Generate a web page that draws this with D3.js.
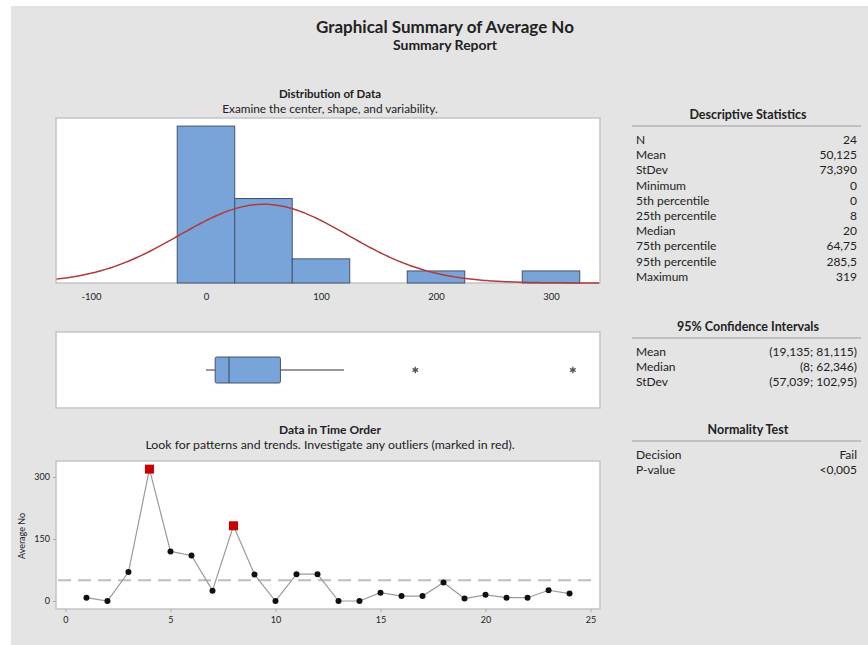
<!DOCTYPE html>
<html>
<head>
<meta charset="utf-8">
<script src="https://cdn.jsdelivr.net/npm/d3@7"></script>
<style>
  body{margin:0;background:#fff;}
  text{font-family:Lato,"Open Sans",sans-serif;fill:#222;}
</style>
</head>
<body>
<div id="container"></div>
<script>
let w = 868;
let h = 645;

let obsIndex = [1,2,3,4,5,6,7,8,9,10,11,12,13,14,15,16,17,18,19,20,21,22,23,24];
let obsValue = [8,0,70,319,120,110,25,182,64,0,65,65,0,0,20,12,12,45,6,15,8,8,26,18];
let outlierIndex = [4,8];

// histogram bins (midpoints, width 50) and counts
let binMid = [0,50,100,150,200,250,300];
let binCount = [13,7,2,0,1,0,1];

// boxplot summary
let boxStats = {min:0, q1:8, median:20, q3:64.75, whiskerHi:120};
let boxOutliers = [182,319];
let mean = 50.125;
let sd = 73.390;

// tables
let descLabels = ["N","Mean","StDev","Minimum","5th percentile","25th percentile","Median","75th percentile","95th percentile","Maximum"];
let descValues = ["24","50,125","73,390","0","0","8","20","64,75","285,5","319"];
let ciLabels = ["Mean","Median","StDev"];
let ciValues = ["(19,135; 81,115)","(8; 62,346)","(57,039; 102,95)"];
let normLabels = ["Decision","P-value"];
let normValues = ["Fail","<0,005"];

let histTicks = [-100,0,100,200,300];
let timeXTicks = [0,5,10,15,20,25];
let timeYTicks = [0,150,300];

let viz = d3.select("#container")
  .append("svg")
    .attr("width",w)
    .attr("height",h);

// grey page
viz.append("rect").attr("x",11).attr("y",6).attr("width",w-11).attr("height",h-6).attr("fill","#e4e4e4");

// titles
viz.append("text").attr("x",445).attr("y",33).attr("text-anchor","middle")
  .attr("font-size",17).attr("font-weight","bold").text("Graphical Summary of Average No");
viz.append("text").attr("x",445).attr("y",50).attr("text-anchor","middle")
  .attr("font-size",14).attr("font-weight","bold").text("Summary Report");

viz.append("text").attr("x",330).attr("y",98).attr("text-anchor","middle")
  .attr("font-size",11.5).attr("font-weight","bold").text("Distribution of Data");
viz.append("text").attr("x",330).attr("y",112.5).attr("text-anchor","middle")
  .attr("font-size",11.8).text("Examine the center, shape, and variability.");

// ---------- histogram ----------
let pL = 56, pR = 600;
let xScale = d3.scaleLinear().domain([-130.4,342.6]).range([pL,pR]);
let histTop = 118, histBot = 283;
let yHist = d3.scaleLinear().domain([0,13.67]).range([histBot,histTop]);

viz.append("rect").attr("x",pL).attr("y",histTop).attr("width",pR-pL).attr("height",histBot-histTop)
  .attr("fill","#fff").attr("stroke","#c4c4c4").attr("stroke-width",1.5);

let histG = viz.append("g");
histG.selectAll("rect").data(binMid.map((d,i)=>({mid:d,count:binCount[i]})).filter(d=>d.count>0))
  .enter().append("rect")
    .attr("x",d=>xScale(d.mid-25))
    .attr("width",d=>xScale(d.mid+25)-xScale(d.mid-25))
    .attr("y",d=>yHist(d.count))
    .attr("height",d=>histBot-yHist(d.count))
    .attr("fill","#79a4da")
    .attr("stroke","#44546a")
    .attr("stroke-width",1);

// fitted normal curve
let curveX = d3.range(-130,343,2);
let curve = d3.line()
  .x(d=>xScale(d))
  .y(d=>yHist(24*50*Math.exp(-0.5*((d-mean)/sd)**2)/(sd*Math.sqrt(2*Math.PI))));
histG.append("path").datum(curveX).attr("d",curve)
  .attr("fill","none").attr("stroke","#b23a3a").attr("stroke-width",1.5);

let xAxis = d3.axisBottom(xScale).tickValues(histTicks).tickSize(0).tickFormat(d=>d<0?"-"+Math.abs(d):d);
let xAxisG = viz.append("g").attr("transform","translate(0,"+histBot+")").call(xAxis);
xAxisG.select(".domain").remove();
xAxisG.selectAll("text").attr("font-size",9.5).attr("font-family","Lato").attr("fill","#222").attr("dy","1.5em");

// ---------- boxplot ----------
let boxTop = 332, boxBot = 408, boxMid = 370;
viz.append("rect").attr("x",pL).attr("y",boxTop).attr("width",pR-pL).attr("height",boxBot-boxTop)
  .attr("fill","#fff").attr("stroke","#c4c4c4").attr("stroke-width",1.5);
let boxG = viz.append("g");
boxG.append("line").attr("x1",xScale(boxStats.min)).attr("x2",xScale(boxStats.q1))
  .attr("y1",boxMid).attr("y2",boxMid).attr("stroke","#777").attr("stroke-width",1.5);
boxG.append("line").attr("x1",xScale(boxStats.q3)).attr("x2",xScale(boxStats.whiskerHi))
  .attr("y1",boxMid).attr("y2",boxMid).attr("stroke","#777").attr("stroke-width",1.5);
boxG.append("rect").attr("x",xScale(boxStats.q1)).attr("y",boxMid-13)
  .attr("width",xScale(boxStats.q3)-xScale(boxStats.q1)).attr("height",26)
  .attr("fill","#79a4da").attr("stroke","#44546a").attr("stroke-width",1).attr("rx",1.5);
boxG.append("line").attr("x1",xScale(boxStats.median)).attr("x2",xScale(boxStats.median))
  .attr("y1",boxMid-13).attr("y2",boxMid+13).attr("stroke","#44546a").attr("stroke-width",1.2);
boxG.selectAll(".out").data(boxOutliers).enter().append("path")
  .attr("transform",d=>"translate("+xScale(d)+","+boxMid+")")
  .attr("d",d3.symbol(d3.symbolAsterisk,28))
  .attr("fill","none").attr("stroke","#555").attr("stroke-width",1.3);

// ---------- time series ----------
viz.append("text").attr("x",330).attr("y",434).attr("text-anchor","middle")
  .attr("font-size",12).attr("font-weight","bold").text("Data in Time Order");
viz.append("text").attr("x",330).attr("y",449).attr("text-anchor","middle")
  .attr("font-size",12.3).text("Look for patterns and trends. Investigate any outliers (marked in red).");

let tsTop = 461, tsBot = 609;
let xTime = d3.scaleLinear().domain([-0.45,25.45]).range([pL,pR]);
let yTime = d3.scaleLinear().domain([0,150]).range([601,539]);

viz.append("rect").attr("x",pL).attr("y",tsTop).attr("width",pR-pL).attr("height",tsBot-tsTop)
  .attr("fill","#fff").attr("stroke","#c4c4c4").attr("stroke-width",1.5);

let tsG = viz.append("g");
tsG.append("line").attr("x1",pL+2).attr("x2",pR-2).attr("y1",yTime(mean)).attr("y2",yTime(mean))
  .attr("stroke","#bdbdbd").attr("stroke-width",2).attr("stroke-dasharray","13,7");

let pts = obsIndex.map((d,i)=>({i:d,v:obsValue[i]}));
tsG.append("path").datum(pts)
  .attr("d",d3.line().x(d=>xTime(d.i)).y(d=>yTime(d.v)))
  .attr("fill","none").attr("stroke","#9a9a9a").attr("stroke-width",1.2);
tsG.selectAll("circle").data(pts.filter(d=>outlierIndex.indexOf(d.i)<0)).enter().append("circle")
  .attr("cx",d=>xTime(d.i)).attr("cy",d=>yTime(d.v)).attr("r",3).attr("fill","#111");
tsG.selectAll(".sq").data(pts.filter(d=>outlierIndex.indexOf(d.i)>=0)).enter().append("rect")
  .attr("x",d=>xTime(d.i)-4.5).attr("y",d=>yTime(d.v)-4.5).attr("width",9).attr("height",9)
  .attr("fill","#cc0000");

let txAxis = d3.axisBottom(xTime).tickValues(timeXTicks).tickSize(3);
let txG = viz.append("g").attr("transform","translate(0,"+tsBot+")").call(txAxis);
txG.select(".domain").remove();
txG.selectAll("line").attr("stroke","#aaa");
txG.selectAll("text").attr("font-size",9).attr("font-family","Lato").attr("fill","#222").attr("dy","0.9em");

let tyAxis = d3.axisLeft(yTime).tickValues(timeYTicks).tickSize(3);
let tyG = viz.append("g").attr("transform","translate("+pL+",0)").call(tyAxis);
tyG.select(".domain").remove();
tyG.selectAll("line").attr("stroke","#aaa");
tyG.selectAll("text").attr("font-size",9).attr("font-family","Lato").attr("fill","#222");

viz.append("text").attr("transform","translate(25,536) rotate(-90)").attr("text-anchor","middle")
  .attr("font-size",9).text("Average No");

// ---------- tables ----------
function drawTable(title, titleY, labels, values){
  viz.append("text").attr("x",748).attr("y",titleY).attr("text-anchor","middle")
    .attr("font-size",12.5).attr("font-weight","bold").text(title);
  viz.append("line").attr("x1",632).attr("x2",861).attr("y1",titleY+7).attr("y2",titleY+7)
    .attr("stroke","#b4b4b4").attr("stroke-width",1.5);
  let rowY = d3.scaleLinear().domain([0,1]).range([titleY+25,titleY+40.2]);
  let g = viz.append("g");
  g.selectAll(".lab").data(labels).enter().append("text")
    .attr("x",636).attr("y",(d,i)=>rowY(i)).attr("font-size",12).text(d=>d);
  g.selectAll(".val").data(values).enter().append("text")
    .attr("x",857).attr("y",(d,i)=>rowY(i)).attr("text-anchor","end").attr("font-size",12).text(d=>d);
}
drawTable("Descriptive Statistics",119,descLabels,descValues);
drawTable("95% Confidence Intervals",331,ciLabels,ciValues);
drawTable("Normality Test",434,normLabels,normValues);
</script>
</body>
</html>
